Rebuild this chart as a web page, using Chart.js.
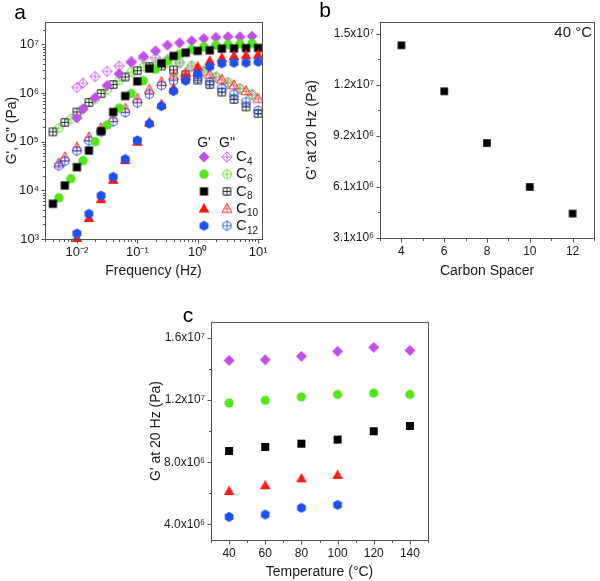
<!DOCTYPE html>
<html>
<head>
<meta charset="utf-8">
<script src="https://cdn.jsdelivr.net/npm/chart.js@4.4.1/dist/chart.umd.min.js"></script>
<style>
	body { margin: 0; background: #fff; width: 600px; height: 581px; position: relative; overflow: hidden; }
	canvas { position: absolute; }
</style>
</head>
<body>
<canvas id="chartA" width="290" height="280" style="left:0;top:0;width:290px;height:280px"></canvas>
<canvas id="chartB" width="300" height="280" style="left:300px;top:0;width:300px;height:280px"></canvas>
<canvas id="chartC" width="306" height="291" style="left:144px;top:290px;width:306px;height:291px"></canvas>
<script>
// ---- panel a : frequency sweeps (Hz) ----
const freqC4 = [0.01, 0.0126, 0.02, 0.0316, 0.05, 0.0794, 0.126, 0.2, 0.316, 0.5, 0.794, 1.26, 2, 3.16, 5, 7.94];
const freqC6 = [0.005, 0.0079, 0.0126, 0.02, 0.0316, 0.05, 0.0794, 0.126, 0.2, 0.316, 0.5, 0.794, 1.26, 2, 3.16, 5, 7.94];
const freqC8 = [0.004, 0.0063, 0.01, 0.0158, 0.0251, 0.0398, 0.0631, 0.1, 0.158, 0.251, 0.398, 0.631, 1, 1.58, 2.51, 3.98, 6.31, 10];
const freqStorage = [0.01, 0.0158, 0.0251, 0.0398, 0.0631, 0.1, 0.158, 0.251, 0.398, 0.631, 1, 1.58, 2.51, 3.98, 6.31, 10];
const freqLoss = [0.005, 0.0063, 0.01, 0.0158, 0.0251, 0.0398, 0.0631, 0.1, 0.158, 0.251, 0.398, 0.631, 1, 1.58, 2.51, 3.98, 6.31, 10];

const gpC4 = [3.1e5, 4.7e5, 8.1e5, 1.44e6, 2.5e6, 4.3e6, 5.7e6, 7.4e6, 9.7e6, 1.08e7, 1.19e7, 1.33e7, 1.4e7, 1.44e7, 1.44e7, 1.48e7];
const gppC4 = [1.3e6, 1.6e6, 2.2e6, 2.8e6, 3.6e6, 4.5e6, 5.2e6, 5.3e6, 4.9e6, 4.3e6, 3.5e6, 2.75e6, 2.1e6, 1.58e6, 1.24e6, 9.1e5];
const gpC6 = [7e3, 1.73e4, 4.1e4, 1.0e5, 2.2e5, 4.9e5, 9.8e5, 1.8e6, 3.1e6, 4.6e6, 6.3e6, 7.9e6, 8.9e6, 9.7e6, 1.0e7, 1.02e7, 1.05e7];
const gppC6 = [1.9e5, 2.9e5, 4.8e5, 7.4e5, 1.17e6, 1.8e6, 2.7e6, 3.5e6, 3.9e6, 4.1e6, 4.1e6, 3.7e6, 2.9e6, 2.2e6, 1.7e6, 1.24e6, 9.6e5];
const gpC8 = [5.3e3, 1.26e4, 3.0e4, 6.6e4, 1.65e5, 4.1e5, 8.7e5, 1.75e6, 3.2e6, 4.1e6, 5.8e6, 6.8e6, 7.4e6, 7.6e6, 8.2e6, 8.3e6, 8.4e6, 8.5e6];
const gppC8 = [1.6e5, 2.5e5, 4.1e5, 6.4e5, 9.8e5, 1.5e6, 2.15e6, 2.9e6, 3.5e6, 3.6e6, 3.0e6, 2.4e6, 1.85e6, 1.5e6, 1.05e6, 7.4e5, 5.2e5, 3.8e5];
const gpC10 = [1.05e3, 2.7e3, 6.6e3, 1.65e4, 4.2e4, 1.0e5, 2.5e5, 5.9e5, 1.25e6, 2.2e6, 3.5e6, 4.6e6, 5.3e6, 5.8e6, 6.0e6, 6.2e6];
const gppC10 = [3.6e4, 4.8e4, 7.7e4, 1.24e5, 1.9e5, 3.1e5, 4.8e5, 7.7e5, 1.18e6, 1.7e6, 2.3e6, 2.6e6, 2.7e6, 2.4e6, 1.9e6, 1.45e6, 1.1e6, 7.7e5];
const gpC12 = [1.3e3, 3.3e3, 7.8e3, 1.9e4, 4.4e4, 1.07e5, 2.35e5, 5.4e5, 1.1e6, 1.8e6, 2.5e6, 3.5e6, 4.1e6, 4.2e6, 4.2e6, 4.4e6];
const gppC12 = [3.2e4, 4.0e4, 6.5e4, 1.05e5, 1.6e5, 2.6e5, 4.0e5, 6.3e5, 9.5e5, 1.45e6, 1.8e6, 2.0e6, 2.0e6, 1.7e6, 1.25e6, 9.5e5, 6.6e5, 4.4e5];

const aXTicks = [0.01, 0.1, 1, 10];
const aXLabels = ['10\u207B\u00B2', '10\u207B\u00B9', '10\u2070', '10\u00B9'];
const aYTicks = [1e3, 1e4, 1e5, 1e6, 1e7];
const aYLabels = ['10\u00B3', '10\u2074', '10\u2075', '10\u2076', '10\u2077'];

// ---- panel b : G' at 20 Hz vs spacer, 40 °C ----
const spacers = [4, 6, 8, 10, 12];
const gAt20 = [1.432e7, 1.164e7, 8.63e6, 6.07e6, 4.52e6];
const bXTicks = [4, 6, 8, 10, 12];
const bXMinor = [3, 5, 7, 9, 11, 13];
const bYTicks = [3.1e6, 6.075e6, 9.05e6, 1.2025e7, 1.5e7];
const bYLabels = ['3.1x10\u2076', '6.1x10\u2076', '9.2x10\u2076', '1.2x10\u2077', '1.5x10\u2077'];
const bYMinor = [4.5875e6, 7.5625e6, 1.05375e7, 1.35125e7];

// ---- panel c : G' at 20 Hz vs temperature ----
const temps = [40, 60, 80, 100, 120, 140];
const tempsShort = [40, 60, 80, 100];
const tC4 = [1.456e7, 1.46e7, 1.482e7, 1.514e7, 1.54e7, 1.52e7];
const tC6 = [1.182e7, 1.199e7, 1.221e7, 1.237e7, 1.246e7, 1.237e7];
const tC8 = [8.73e6, 8.99e6, 9.2e6, 9.46e6, 1.0e7, 1.034e7];
const tC10 = [6.15e6, 6.52e6, 6.97e6, 7.19e6];
const tC12 = [4.49e6, 4.64e6, 5.07e6, 5.26e6];
const cXTicks = [40, 60, 80, 100, 120, 140];
const cXMinor = [30, 50, 70, 90, 110, 130, 150];
const cYTicks = [4e6, 8e6, 1.2e7, 1.6e7];
const cYLabels = ['4.0x10\u2076', '8.0x10\u2076', '1.2x10\u2077', '1.6x10\u2077'];
const cYMinor = [6e6, 1e7, 1.4e7];

const PURPLE = '#c04fe8', GREEN = '#55e51c', BLACK = '#000000', RED = '#ff1a1a', BLUE = '#1f50ef';
const FONT = '"Liberation Sans", Arial, sans-serif';
const INK = '#1a1a1a';

// marker images (Origin style solid and crosshatched symbols)
function tracePath(g, shape, r)
{
	g.beginPath();
	if (shape === 'diamond') {
		g.moveTo(0, -r); g.lineTo(r, 0); g.lineTo(0, r); g.lineTo(-r, 0);
	} else if (shape === 'square') {
		g.rect(-r, -r, 2 * r, 2 * r);
	} else if (shape === 'triangle') {
		g.moveTo(0, -r); g.lineTo(r * 0.95, r * 0.7); g.lineTo(-r * 0.95, r * 0.7);
	} else if (shape === 'hexagon') {
		for (let k = 0; k < 6; k++) {
			let a = Math.PI / 2 + k * Math.PI / 3;
			g.lineTo(r * Math.cos(a), r * Math.sin(a));
		}
	} else {
		g.arc(0, 0, r, 0, Math.PI * 2);
	}
	g.closePath();
}

function marker(shape, color, r, hatched)
{
	let s = Math.ceil(r * 2 + 4);
	let c = document.createElement('canvas');
	c.width = s; c.height = s;
	let g = c.getContext('2d');
	g.translate(s / 2, s / 2);
	if (!hatched) {
		tracePath(g, shape, r);
		g.fillStyle = color;
		g.fill();
		return c;
	}
	g.strokeStyle = color;
	g.lineWidth = 0.9;
	g.save();
	tracePath(g, shape, r);
	g.clip();
	g.beginPath();
	g.moveTo(0, -r); g.lineTo(0, r);
	g.moveTo(-r, 0); g.lineTo(r, 0);
	g.globalAlpha = 0.85;
	g.stroke();
	g.restore();
	tracePath(g, shape, r - 0.4);
	g.stroke();
	return c;
}

function pts(xs, ys)
{
	return ys.map((y, i) => ({x: xs[i], y: y}));
}

function ds(xs, ys, img, order)
{
	return {data: pts(xs, ys), pointStyle: img, pointRadius: 5, order: order, showLine: false, clip: 6};
}

// frame, tick marks and free text drawn over each panel
const decor = {
	id: 'decor',
	afterDraw(chart, args, o)
	{
		const ctx = chart.ctx, a = chart.chartArea, sx = chart.scales.x, sy = chart.scales.y;
		ctx.save();
		ctx.strokeStyle = '#555';
		ctx.lineWidth = 1;
		ctx.strokeRect(Math.round(a.left) + 0.5, Math.round(a.top) + 0.5, Math.round(a.right - a.left), Math.round(a.bottom - a.top));
		ctx.beginPath();
		const xt = (v, len) => {
			let x = Math.round(sx.getPixelForValue(v)) + 0.5;
			ctx.moveTo(x, Math.round(a.bottom) + 0.5); ctx.lineTo(x, Math.round(a.bottom) + 0.5 + len);
		};
		const yt = (v, len) => {
			let y = Math.round(sy.getPixelForValue(v)) + 0.5;
			ctx.moveTo(Math.round(a.left) + 0.5, y); ctx.lineTo(Math.round(a.left) + 0.5 - len, y);
		};
		o.xMajor.forEach(v => xt(v, 4));
		o.xMinor.forEach(v => { if (v >= sx.min && v <= sx.max) xt(v, 2.5); });
		o.yMajor.forEach(v => yt(v, 4));
		o.yMinor.forEach(v => { if (v >= sy.min && v <= sy.max) yt(v, 2.5); });
		ctx.stroke();

		ctx.fillStyle = '#000';
		ctx.textBaseline = 'middle';
		ctx.textAlign = 'center';
		ctx.font = '21px ' + FONT;
		ctx.fillText(o.letter[0], o.letter[1], o.letter[2]);
		if (o.draw) o.draw(ctx);
		ctx.restore();
	}
};

function logMinors(lo, hi)
{
	let out = [];
	for (let e = Math.floor(Math.log10(lo)); e <= Math.ceil(Math.log10(hi)); e++) {
		for (let m = 2; m <= 9; m++) out.push(m * Math.pow(10, e));
	}
	return out;
}

function axis(type, min, max, ticks, labels, title, size, fontSize)
{
	return {
		type: type, min: min, max: max,
		afterBuildTicks: s => { s.ticks = ticks.map(v => ({value: v})); },
		afterFit: s => { if (s.isHorizontal()) s.height = size; else s.width = size; },
		ticks: {
			autoSkip: false, maxRotation: 0, padding: 2, color: INK,
			font: {family: FONT, size: fontSize || 12},
			callback: (v, i) => labels[i]
		},
		grid: {display: true, drawOnChartArea: false, drawTicks: true, tickLength: 4, color: 'rgba(0,0,0,0)'},
		border: {display: false},
		title: {display: true, text: title, color: INK, font: {family: FONT, size: 14}, padding: {top: 4, bottom: 0}}
	};
}

function config(datasets, pad, x, y, decorOpts)
{
	return {
		type: 'scatter',
		data: {datasets: datasets},
		plugins: [decor],
		options: {
			responsive: false,
			animation: false,
			events: [],
			layout: {padding: pad},
			plugins: {legend: {display: false}, tooltip: {enabled: false}, decor: decorOpts},
			scales: {x: x, y: y}
		}
	};
}

// ---------- panel a ----------
const mA = {
	c4: marker('diamond', PURPLE, 5.6, false), c4o: marker('diamond', PURPLE, 5.6, true),
	c6: marker('circle', GREEN, 4.7, false), c6o: marker('circle', GREEN, 4.7, true),
	c8: marker('square', BLACK, 4.1, false), c8o: marker('square', BLACK, 4.1, true),
	c10: marker('triangle', RED, 5.7, false), c10o: marker('triangle', RED, 5.7, true),
	c12: marker('hexagon', BLUE, 5.1, false), c12o: marker('hexagon', BLUE, 5.1, true)
};

new Chart(document.getElementById('chartA').getContext('2d'), config(
	[
		ds(freqLoss, gppC12, mA.c12o, 10),
		ds(freqLoss, gppC10, mA.c10o, 11),
		ds(freqC8, gppC8, mA.c8o, 12),
		ds(freqC6, gppC6, mA.c6o, 13),
		ds(freqC4, gppC4, mA.c4o, 14),
		ds(freqStorage, gpC12, mA.c12, 1),
		ds(freqStorage, gpC10, mA.c10, 2),
		ds(freqC8, gpC8, mA.c8, 3),
		ds(freqC6, gpC6, mA.c6, 4),
		ds(freqC4, gpC4, mA.c4, 5)
	],
	{left: 0, top: 22, right: 28, bottom: 0},
	axis('logarithmic', 0.00296, 11.6, aXTicks, aXLabels, 'Frequency (Hz)', 41, 13),
	axis('logarithmic', 1e3, 2.9e7, aYTicks, aYLabels, 'G\', G" (Pa)', 45, 13),
	{
		xMajor: aXTicks, xMinor: logMinors(0.003, 10),
		yMajor: aYTicks, yMinor: logMinors(1e3, 2e7),
		letter: ['a', 20, 13],
		draw: function(ctx)
		{
			ctx.font = '14px ' + FONT;
			ctx.fillStyle = INK;
			ctx.fillText('G\'', 204, 143);
			ctx.fillText('G"', 227, 143);
			const rows = [[mA.c4, mA.c4o, '4'], [mA.c6, mA.c6o, '6'], [mA.c8, mA.c8o, '8'], [mA.c10, mA.c10o, '10'], [mA.c12, mA.c12o, '12']];
			rows.forEach((r, i) => {
				let y = 157 + i * 17.2;
				ctx.drawImage(r[0], 204 - r[0].width / 2, y - r[0].height / 2);
				ctx.drawImage(r[1], 227 - r[1].width / 2, y - r[1].height / 2);
				ctx.textAlign = 'left';
				ctx.font = '15px ' + FONT;
				ctx.fillText('C', 236, y);
				ctx.font = '10px ' + FONT;
				ctx.fillText(r[2], 247, y + 5);
				ctx.textAlign = 'center';
			});
		}
	}
));

// ---------- panel b ----------
new Chart(document.getElementById('chartB').getContext('2d'), config(
	[ds(spacers, gAt20, marker('square', BLACK, 3.8, false), 1)],
	{left: 0, top: 22, right: 2, bottom: 0},
	axis('linear', 3, 13, bXTicks, bXTicks.map(String), 'Carbon Spacer', 42),
	axis('linear', 3.1e6, 1.5675e7, bYTicks, bYLabels, 'G\' at 20 Hz (Pa)', 80),
	{
		xMajor: bXTicks, xMinor: bXMinor, yMajor: bYTicks, yMinor: bYMinor,
		letter: ['b', 25, 11],
		draw: function(ctx)
		{
			ctx.font = '15px ' + FONT;
			ctx.textAlign = 'right';
			ctx.fillStyle = INK;
			ctx.fillText('40 \u00B0C', 292, 33);
		}
	}
));

// ---------- panel c ----------
new Chart(document.getElementById('chartC').getContext('2d'), config(
	[
		ds(tempsShort, tC12, marker('hexagon', BLUE, 5, false), 1),
		ds(tempsShort, tC10, marker('triangle', RED, 5.6, false), 2),
		ds(temps, tC8, marker('square', BLACK, 4, false), 3),
		ds(temps, tC6, marker('circle', GREEN, 4.6, false), 4),
		ds(temps, tC4, marker('diamond', PURPLE, 5.5, false), 5)
	],
	{left: 0, top: 32, right: 22, bottom: 0},
	axis('linear', 30, 150, cXTicks, cXTicks.map(String), 'Temperature (\u00B0C)', 41),
	axis('linear', 3e6, 1.703e7, cYTicks, cYLabels, 'G\' at 20 Hz (Pa)', 67),
	{
		xMajor: cXTicks, xMinor: cXMinor, yMajor: cYTicks, yMinor: cYMinor,
		letter: ['c', 44, 26]
	}
));
</script>
</body>
</html>
